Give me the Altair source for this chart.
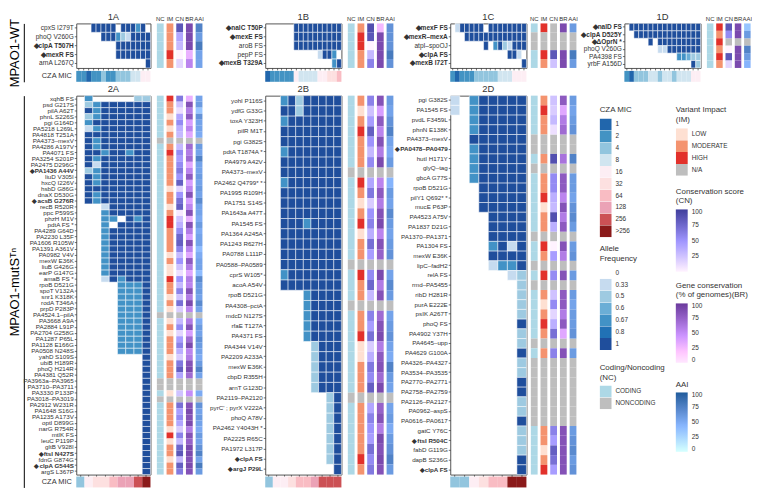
import altair as alt
import pandas as pd

# ---------------- colour keys ----------------
AF_CODE = {"a": "0.33", "b": "0.5", "c": "0.6", "d": "0.67", "e": "0.8", "f": "1"}
AF_LEVELS = ["0", "0.33", "0.5", "0.6", "0.67", "0.8", "1"]
AF_COLORS = ["#ffffff", "#c6dbef", "#9ecae1", "#6baed6", "#4292c6", "#2171b5", "#1f4e9c"]
MIC_LEVELS = ["1", "2", "4", "8", "16", "32", "64", "128", "256", ">256"]
MIC_COLORS = ["#2166ac", "#4393c3", "#92c5de", "#d1e5f0", "#fdeef4", "#fde0e0",
              "#f9bcc3", "#eba2b6", "#cc5155", "#8b1a1a"]
NC_LEVELS = ["CODING", "NONCODING"]
NC_COLORS = ["#add8e6", "#bebebe"]
IM_LEVELS = ["LOW", "MODERATE", "HIGH", "N/A"]
IM_COLORS = ["#fee0d2", "#f4936f", "#e2312b", "#bebebe"]
CN_RANGE = ["#ffffff", "#3f3f9c"]
BR_RANGE = ["#ffffff", "#6a3a9c"]
AAI_RANGE = ["#ffffff", "#1f5c9c"]
NA_GRAY = "#bebebe"
KEYS = ["NC", "IM", "CN", "BR", "AAI"]
NC_MAP = {"C": "CODING", "N": "NONCODING"}
IM_MAP = {"L": "LOW", "M": "MODERATE", "H": "HIGH", "N": "N/A"}

# ---------------- panel 1A ----------------
labels_1A = ["cpxS I279T", "phoQ V260G", "◆clpA T507H", "◆mexR FS", "arnA L267Q"]
heat_1A = ["...fffff.fffdf.", ".....fffdbaffff", "........fffffff",
           "........fffffff", "..............f"]
mic_1A = ["2", "2", "1", "2", "2", "4", "2", "2", "4", "4", "4", "8", "8", "16", "16"]
nc_1A = "CCCCC"
im_1A = "MMMHM"
cn_1A = [85, 40, 30, 0, 15]
br_1A = [90, 90, 90, 30, 55]
aai_1A = [75, 60, 80, 55, 55]

# ---------------- panel 1B ----------------
labels_1B = ["◆nalC T50P", "◆mexE FS", "aroB FS", "pepP FS", "◆mexB T329A"]
heat_1B = ["......ffffffffff", "......ffffffffff", "......ffffffffff",
           "...........affd.", "..............df"]
mic_1B = ["1", "2", "2", "2", "2", "2", "16", "8", "8", "8", "8", "16", "16", "32", "32", "64"]
nc_1B = "CCCCC"
im_1B = "MHHMM"
cn_1B = [90, 85, 0, 30, 60]
br_1B = [25, 90, 90, 90, 90]
aai_1B = [65, 65, 65, 80, 65]

# ---------------- panel 1C ----------------
labels_1C = ["◆mexF FS", "◆mexR–mexA", "atpI–spoOJ", "◆clpA FS", "◆mexB I72T"]
heat_1C = [".afffff.ffffffff", "...fffffffffffff", ".......f.dfbafff",
           "............ffa.", "...............f"]
mic_1C = ["2", "1", "2", "2", "2", "4", "4", "4", "4", "4", "8", "8", "8", "16", "16", "16"]
nc_1C = "CNNCC"
im_1C = "HNNHM"
cn_1C = [None, None, None, 85, 25]
br_1C = [90, None, None, 90, 90]
aai_1C = [60, None, None, 80, 60]

# ---------------- panel 1D ----------------
labels_1D = ["◆nalD FS", "◆clpA D525Y", "◆ΔOprN *", "phoQ V260G", "PA4398 FS", "yrbF A156D"]
heat_1D = [".fffffffffffffff", "..ffffffffffffff", ".....f.fffffffff",
           ".......aafffffff", "...........ddcbb", "..............fb"]
mic_1D = ["2", "1", "4", "4", "4", "8", "8", "4", "8", "8", "4", "8", "8", "8", "16", "16"]
nc_1D = "CCCCCC"
im_1D = "HMHMHM"
cn_1D = [85, 55, None, 0, 85, 15]
br_1D = [90, 90, None, 90, 90, 90]
aai_1D = [35, 60, None, 75, 60, 45]

# ---------------- panel 2A ----------------
labels_2A = [
    "xqhB FS", "psd G217S", "pilA A62T", "phnL S226S", "pgi G164D", "PA5218 L269L",
    "PA4818 T251A", "PA4373–mexV", "PA4286 A197V", "PA4071 FS", "PA3254 S201P",
    "PA2475 D296G", "◆PA1436 A44V", "liuD V305I", "hxcQ I226V", "hsbD G86G",
    "dnaX D530G", "◆acsB G276R", "recB R520R", "ppc P599S", "phzH M1V", "pdtA FS *",
    "PA4289 G64D", "PA2230 L35F", "PA1606 R105W", "PA1391 A361V", "PA0982 V4V",
    "mexW E36K", "liuB G426G", "earP G147G", "amaB FS *", "rpoB D521G", "spoT V132A",
    "snr1 K318K", "rodA T346A", "prpD P283P", "PA4524.1–pilA", "PA3668 A9A",
    "PA2884 L91P", "PA2704 G258G", "PA1287 P65L", "PA1128 E166G", "PA0508 N248S",
    "yahD S109S", "ubiB H189R", "phoQ H214R", "PA4381 Q52R", "PA3963a–PA3965",
    "PA3710–PA3711", "PA3330 P133P", "PA3018–PA3019", "PA2912 W231R", "PA1648 S16G",
    "PA1235 A173V", "optI D899G", "narG R754R", "mtlK FS", "leuC P119P", "gltB V928I",
    "◆ftsI N427S", "fdnG G874G", "◆clpA G544S", "argS L367P"]
heat_2A = (
    [".d.....bb", ".bdffffff", ".fdffffff", ".bdffffff", ".dfffffff", ".adffffff",
     ".ffffffff", ".fdffffff", ".fdffffff", ".ffdffdff", ".fdffffff", ".faffffff",
     ".bdffffff", ".fdffffff", ".fdffffff", ".ffffffff", ".fdffffff", ".fdffffff",
     "...afffff", "...dfffff", "...dd.fdf", "...d.ffff", "...dfffff", "...dfffff",
     "...dfffff", "...dfffff", "...dfffff", "...dfffff", "...dfffff", "...dfffff",
     "...afdfff"]
    + [".....dddf"] * 12 + ["........f"] * 20)
mic_2A = ["4", "16", "32", "32", "64", "128", "128", "256", ">256"]
nc_2A = "CCCCCCCNCC" "CCCCCCCCCC" "CCCCCCCCCC" "CCCCCCNCCC" "CCCCCCCNNC" "NCCCCCCCCC" "CCC"
im_2A = "HMMLMLMNMH" "MMMMMLMMLM" "HHMMMMLMLL" "HMMLMLNLML" "MMMLMMMNNL" "NMMMMLHLMM" "LMM"
cn_2A = [65, 25, 10, 40, 55, 35, 30, None, 30, 55, 45, 55, 65, 50, 80, 15, 50, 70, 80, 5,
         25, 35, 55, 75, 80, 60, 30, 50, 25, 10, 50, 30,
         60, 25, 70, 20, None, 30, 55, 15, 45, 60, 35, 20, 65, 80, 40, None, None, 25, None,
         70, 45, 55, 40, 20, 60, 30, 75, 85, 30, 80, 65]
br_2A = [30, 85, 60, 80, 40, 55, 35, None, 70, 60, 70, 35, 55, 80, 40, 55, 85, 40, 55, 85,
         30, 85, 60, 40, 85, 55, 35, 80, 60, 35, 60, 55,
         85, 60, 90, 55, None, 60, 85, 40, 70, 90, 55, 60, 85, 90, 70, None, None, 50, None,
         85, 90, 85, 90, 60, 85, 75, 90, 90, 85, 90, 85]
aai_2A = [55, 60, 35, 65, 55, 55, 50, None, 60, 55, 75, 55, 55, 60, 55, 60, 55, 70, 55, 55,
          50, 60, 50, 55, 55, 40, 50, 55, 55, 40, 70, 60,
          60, 55, 70, 55, None, 50, 60, 55, 65, 60, 55, 50, 60, 75, 55, None, None, 50, None,
          65, 55, 60, 55, 50, 60, 55, 65, 75, 55, 80, 60]

# ---------------- panel 2B ----------------
labels_2B = [
    "yohI P116S", "ydfG G33G", "toxA Y323H", "pilR M1T", "pgi G382S", "pdtA T1874A *",
    "PA4979 A42V", "PA4373–mexV", "PA2462 Q4799* *", "PA1995 R109H", "PA1751 S14S",
    "PA1643a A47T", "PA1545 FS", "PA1364 A245A", "PA1243 R627H", "PA0788 L111P",
    "PA0588–PA0589", "cprS W105*", "acoA A54V", "rpoB D521G", "PA4308–pctA",
    "mdcD N127S", "rfaE T127A", "PA4371 FS", "PA4344 V14V", "PA2209 A233A",
    "mexW E36K", "cbpD R355H", "arnT G123D", "PA2119–PA2120", "pyrC' ; pyrX V222A",
    "phoQ A78V", "PA2462 Y4043H *", "PA2225 R65C", "PA1972 L317P", "◆clpA FS", "◆argJ P29L"]
heat_2B = (
    ["..dfbfffff", "..ffbfffff", "..dfffffff", "..ffffffff", "..ffffffff", "..dfffffff",
     "..ffffffff", "..ffffffff", "..dfffffff", "..ffffffff", "..ffffffff", "..ffffffff",
     "..fffdffff", "..ffffffff", "..ffffffff", "..ffffffff", "..ffffffff", "..dfffffff",
     "..ffffffff"]
    + [".....dffff"] * 5 + ["......bfff"] * 5 + ["........bf"] * 7 + [".........f"])
mic_2B = ["4", "16", "16", "32", "64", "64", "128", "256", "256", "256"]
nc_2B = "CCCCCCCNCC" "CCCCCCNCCC" "NCCCCCCCCN" "CCCCCCC"
im_2B = "MLMHMMMNHM" "LMHLMMNHMM" "NMMHLLMMMN" "MMMMMHM"
cn_2B = [60, 25, 45, 80, 50, 30, 55, None, 40, 65, 20, 50, 60, 35, 70, 45, None, 55, 75, 30,
         None, 60, 45, 70, 20, 35, 65, 55, 80, None, 40, 60, 50, 45, 70, 55, 65]
br_2B = [85, 40, 80, 55, 85, 60, 90, None, 55, 80, 60, 85, 90, 55, 85, 75, None, 90, 60, 85,
         None, 70, 85, 90, 60, 80, 85, 70, 90, None, 75, 85, 60, 90, 85, 90, 85]
aai_2B = [60, 55, 65, 75, 55, 50, 60, None, 45, 60, 55, 70, 60, 55, 60, 65, None, 55, 70, 60,
          None, 55, 60, 65, 55, 50, 75, 60, 55, None, 55, 60, 50, 60, 65, 75, 60]

# ---------------- panel 2D ----------------
labels_2D = [
    "pgi G382S", "PA1545 FS", "pvdL F3459L", "phnN E138K", "PA4373–mexV",
    "◆PA0478–PA0479", "hutI H171Y", "glyQ–tag", "gbcA G77S", "rpoB D521G",
    "pilY1 Q692* *", "mucE P63P", "PA4523 A75V", "PA1837 D21G", "PA1370–PA1371",
    "PA1304 FS", "mexW E36K", "lipC–fadH2", "relA FS", "rmd–PA5455", "ribD H281R",
    "purA E222E", "psIK A267T", "phoQ FS", "PA4902 Y37H", "PA4645–upp", "PA4629 G100A",
    "PA4326–PA4327", "PA3534–PA3535", "PA2770–PA2771", "PA2758–PA2759", "PA2126–PA2127",
    "PA0962–aspS", "PA0616–PA0617", "gatC Y76C", "◆ftsI R504C", "fabD G119G",
    "dapB S236G", "◆clpA FS"]
heat_2D = [
    "a.dfffff", "a.dfffff", "..dfffff", "..dfffff", "..ffffff", "..dfffff", "..dfffff",
    "..dfffff", "..dfffff", "...fffff", "...fffff", "...fffff", "....ffff", "....ffff",
    "....ffff", "....dfaf", "....ffff", "....addf", "......ab", ".......b", ".......b",
    ".......b", ".......b", ".......f", ".......b", ".......b", ".......f", ".......b",
    ".......b", ".......f", ".......f", ".......b", ".......b", ".......f", ".......b",
    ".......b", ".......b", ".......f", ".......f"]
mic_2D = ["4", "4", "16", "32", "64", "64", ">256", ">256"]
nc_2D = "CCCCNNCNCC" "CCCCNCCNCN" "CCCCCNCNNN" "NNNNCCCCC"
im_2D = "MHMMNNMNMM" "HLMMNHMNHN" "MLMHMNMNNN" "NNNNMMLMH"
cn_2D = [25, 20, 30, 10, None, None, 90, None, 55, 55, 35, 30, 90, 35, None, 0, 45, None, 55, None,
         25, 55, 15, 35, 70, None, 60, None, None, None, None, None, None, None, 60, 45, 80, 70, 45]
br_2D = [80, 35, 60, 70, None, None, 65, None, 80, 80, 55, 85, 60, 80, None, 85, 60, None, 85, None,
         80, 80, 60, 80, 35, None, 85, None, None, None, None, None, None, None, 85, 85, 85, 85, 85]
aai_2D = [60, 55, 60, 65, None, None, 75, None, 60, 60, 55, 65, 70, 60, None, 60, 65, None, 60, None,
          60, 55, 60, 60, 65, None, 60, None, None, None, None, None, None, None, 60, 65, 70, 60, 65]

PANELS = {
    "1A": dict(labels=labels_1A, heat=heat_1A, mic=mic_1A, nc=nc_1A, im=im_1A, cn=cn_1A, br=br_1A, aai=aai_1A),
    "1B": dict(labels=labels_1B, heat=heat_1B, mic=mic_1B, nc=nc_1B, im=im_1B, cn=cn_1B, br=br_1B, aai=aai_1B),
    "1C": dict(labels=labels_1C, heat=heat_1C, mic=mic_1C, nc=nc_1C, im=im_1C, cn=cn_1C, br=br_1C, aai=aai_1C),
    "1D": dict(labels=labels_1D, heat=heat_1D, mic=mic_1D, nc=nc_1D, im=im_1D, cn=cn_1D, br=br_1D, aai=aai_1D),
    "2A": dict(labels=labels_2A, heat=heat_2A, mic=mic_2A, nc=nc_2A, im=im_2A, cn=cn_2A, br=br_2A, aai=aai_2A),
    "2B": dict(labels=labels_2B, heat=heat_2B, mic=mic_2B, nc=nc_2B, im=im_2B, cn=cn_2B, br=br_2B, aai=aai_2B),
    "2D": dict(labels=labels_2D, heat=heat_2D, mic=mic_2D, nc=nc_2D, im=im_2D, cn=cn_2D, br=br_2D, aai=aai_2D),
}

TXT = "#333333"
BOLD = {"condition": {"test": "indexof(datum.value, '◆') == 0", "value": "bold"}, "value": "normal"}


def heat_chart(name, w, h, title, fs):
    p = PANELS[name]
    ncol = len(p["heat"][0])
    rows = []
    for lab, s in zip(p["labels"], p["heat"]):
        for j, ch in enumerate(s):
            if ch in AF_CODE:
                rows.append({"gene": lab, "col": j, "af": AF_CODE[ch]})
    df = pd.DataFrame(rows)
    c = alt.Chart(df).mark_rect(stroke="white", strokeWidth=0.5).encode(
        x=alt.X("col:O", scale=alt.Scale(domain=list(range(ncol)), paddingInner=0, paddingOuter=0),
                axis=alt.Axis(title=None, labels=False, domain=False, ticks=True, tickSize=2,
                              tickWidth=0.7, tickColor=TXT)),
        y=alt.Y("gene:N", scale=alt.Scale(domain=p["labels"], paddingInner=0, paddingOuter=0),
                axis=alt.Axis(title=None, domain=False, ticks=True, tickSize=2, tickWidth=0.7,
                              tickColor=TXT, labelFontSize=fs, labelPadding=1, labelColor=TXT,
                              labelOverlap=False, labelFontWeight=BOLD)),
        color=alt.Color("af:N", scale=alt.Scale(domain=AF_LEVELS, range=AF_COLORS), legend=None),
    )
    return c.properties(width=w, height=h,
                        view=alt.ViewBackground(stroke="#555555", strokeWidth=1),
                        title=alt.TitleParams(title, fontSize=9.5, fontWeight="normal",
                                              anchor="middle", offset=2, color=TXT))


def cza_chart(name, w, h, show_label):
    p = PANELS[name]
    df = pd.DataFrame({"col": list(range(len(p["mic"]))), "mic": p["mic"], "lab": "CZA MIC"})
    yax = alt.Axis(title=None, domain=False, ticks=False, labelFontSize=7.5, labelPadding=5,
                   labelColor=TXT) if show_label else None
    return alt.Chart(df).mark_rect().encode(
        x=alt.X("col:O", scale=alt.Scale(domain=list(range(len(p["mic"]))), paddingInner=0,
                                         paddingOuter=0), axis=None),
        y=alt.Y("lab:N", axis=yax),
        color=alt.Color("mic:N", scale=alt.Scale(domain=MIC_LEVELS, range=MIC_COLORS), legend=None),
    ).properties(width=w, height=h)


def annot_chart(name, w, h, headers):
    p = PANELS[name]
    rows = []
    for i, lab in enumerate(p["labels"]):
        rows.append({"gene": lab, "key": "NC", "cat": NC_MAP[p["nc"][i]], "num": None})
        rows.append({"gene": lab, "key": "IM", "cat": IM_MAP[p["im"][i]], "num": None})
        for k, arr in (("CN", p["cn"]), ("BR", p["br"]), ("AAI", p["aai"])):
            v = arr[i]
            rows.append({"gene": lab, "key": k, "cat": "NA" if v is None else "V", "num": v})
    df = pd.DataFrame(rows)
    xax = alt.Axis(orient="top", title=None, labelAngle=0, ticks=False, domain=False,
                   labelFontSize=6, labelPadding=2, labelColor=TXT) if headers else None
    base = alt.Chart(df).encode(
        x=alt.X("key:N", scale=alt.Scale(domain=KEYS, paddingInner=0.3, paddingOuter=0.15), axis=xax),
        y=alt.Y("gene:N", scale=alt.Scale(domain=p["labels"], paddingInner=0, paddingOuter=0), axis=None),
    )
    layers = [
        base.transform_filter("datum.cat == 'NA'").mark_rect(color=NA_GRAY),
        base.transform_filter("datum.key == 'NC'").mark_rect().encode(
            color=alt.Color("cat:N", scale=alt.Scale(domain=NC_LEVELS, range=NC_COLORS), legend=None)),
        base.transform_filter("datum.key == 'IM'").mark_rect().encode(
            color=alt.Color("cat:N", scale=alt.Scale(domain=IM_LEVELS, range=IM_COLORS), legend=None)),
    ]
    for k, rng in (("CN", CN_RANGE), ("BR", BR_RANGE), ("AAI", AAI_RANGE)):
        layers.append(base.transform_filter(f"datum.key == '{k}' && isValid(datum.num)").mark_rect().encode(
            color=alt.Color("num:Q", scale=alt.Scale(domain=[0, 100], range=rng), legend=None)))
    return alt.layer(*layers).resolve_scale(color="independent").properties(width=w, height=h)


# ---------------- legends (each in its own host cell) ----------------
LEG_DF = pd.DataFrame({"v": ["x"]})
COMMON = dict(labelFontSize=6.5, labelOffset=4, titleFontSize=8, titleFontWeight="normal",
              titlePadding=4, padding=0, labelColor=TXT, titleColor=TXT)
SYM = dict(symbolType="square", symbolSize=144, symbolStrokeWidth=0, rowPadding=0,
           clipHeight=12, symbolOpacity=1, **COMMON)
GRAD = dict(direction="vertical", gradientLength=60, gradientThickness=12,
            gradientStrokeWidth=0, values=[0, 25, 50, 75, 100], **COMMON)
GRAD_CN = dict(GRAD)
GRAD_CN["values"] = [25, 50, 75, 100]
GRAD_CN["gradientLength"] = 63


def legend_host(w, h, t, domain, rng, title, lx, ly, opts):
    return alt.Chart(LEG_DF).transform_filter("false").mark_rect().encode(
        color=alt.Color(f"v:{t}", scale=alt.Scale(domain=domain, range=rng),
                        legend=alt.Legend(title=title, orient="none", legendX=lx, legendY=ly, **opts))
    ).properties(width=w, height=h)


BLANK = pd.DataFrame({"v": [0]})


def blank(w, h):
    return alt.Chart(BLANK).mark_point(opacity=0, size=0).properties(width=w, height=h)


def side_label(text, h):
    return alt.Chart(pd.DataFrame({"v": [0, 1]})).mark_point(opacity=0, size=0).encode(
        y=alt.Y("v:Q", scale=alt.Scale(domain=[0, 1], nice=False, zero=False),
                axis=alt.Axis(title=text, labels=False, ticks=False, grid=False, domain=True,
                              domainColor="black", domainWidth=1, titleFontSize=13,
                              titleFontWeight="normal", titlePadding=2, titleColor="black"))
    ).properties(width=1, height=h)


# ---------------- layout grid ----------------
COLS = [("hA", 75), ("g1", 5), ("aA", 49), ("g2", 62), ("hB", 77), ("g3", 5), ("aB", 49),
        ("g4", 56), ("hC", 77), ("g5", 3), ("aC", 49), ("g6", 47), ("hD", 77), ("g7", 5), ("aD", 47)]
ROWS = [("tH", 45), ("tg", 3), ("tC", 11), ("mg", 14), ("bH", 383), ("bg", 2), ("bC", 11)]
CW = dict(COLS)
RH = dict(ROWS)

X_G6, X_HD, X_G7, X_AD = 584, 631, 708, 713
Y_BH, Y_BC = 93, 478
FS_TOP, FS_BOT = 6.6, 6.3

cells = {
    ("tH", "hA"): heat_chart("1A", CW["hA"], RH["tH"], "1A", FS_TOP),
    ("tH", "aA"): annot_chart("1A", CW["aA"], RH["tH"], True),
    ("tH", "hB"): heat_chart("1B", CW["hB"], RH["tH"], "1B", FS_TOP),
    ("tH", "aB"): annot_chart("1B", CW["aB"], RH["tH"], True),
    ("tH", "hC"): heat_chart("1C", CW["hC"], RH["tH"], "1C", FS_TOP),
    ("tH", "aC"): annot_chart("1C", CW["aC"], RH["tH"], True),
    ("tH", "hD"): heat_chart("1D", CW["hD"], RH["tH"], "1D", FS_TOP),
    ("tH", "aD"): annot_chart("1D", CW["aD"], RH["tH"], True),
    ("tC", "hA"): cza_chart("1A", CW["hA"], RH["tC"], True),
    ("tC", "hB"): cza_chart("1B", CW["hB"], RH["tC"], False),
    ("tC", "hC"): cza_chart("1C", CW["hC"], RH["tC"], False),
    ("tC", "hD"): cza_chart("1D", CW["hD"], RH["tC"], False),
    ("bH", "hA"): heat_chart("2A", CW["hA"], RH["bH"], "2A", FS_BOT),
    ("bH", "aA"): annot_chart("2A", CW["aA"], RH["bH"], False),
    ("bH", "hB"): heat_chart("2B", CW["hB"], RH["bH"], "2B", FS_BOT),
    ("bH", "aB"): annot_chart("2B", CW["aB"], RH["bH"], False),
    ("bH", "hC"): heat_chart("2D", CW["hC"], RH["bH"], "2D", FS_BOT),
    ("bH", "aC"): annot_chart("2D", CW["aC"], RH["bH"], False),
    ("bC", "hA"): cza_chart("2A", CW["hA"], RH["bC"], True),
    ("bC", "hB"): cza_chart("2B", CW["hB"], RH["bC"], False),
    ("bC", "hC"): cza_chart("2D", CW["hC"], RH["bC"], False),
    # legends
    ("bH", "hD"): legend_host(CW["hD"], RH["bH"], "N", MIC_LEVELS, MIC_COLORS, "CZA MIC",
                              606 - X_HD, 104 - Y_BH, SYM),
    ("bH", "g6"): legend_host(CW["g6"], RH["bH"], "N", AF_LEVELS, AF_COLORS, ["Allele", "Frequency"],
                              606 - X_G6, 244 - Y_BH, SYM),
    ("bH", "g7"): legend_host(CW["g7"], RH["bH"], "N", NC_LEVELS, NC_COLORS,
                              ["Coding/Noncoding", "(NC)"], 606 - X_G7, 364 - Y_BH, SYM),
    ("bH", "aD"): legend_host(CW["aD"], RH["bH"], "N", IM_LEVELS, IM_COLORS, ["Variant Impact", "(IM)"],
                              683 - X_AD, 104 - Y_BH, SYM),
    ("bC", "hD"): legend_host(CW["hD"], RH["bC"], "Q", [0, 100], CN_RANGE, ["Conservation score", "(CN)"],
                              683 - X_HD, 186 - Y_BC, GRAD_CN),
    ("bC", "g6"): legend_host(CW["g6"], RH["bC"], "Q", [0, 100], BR_RANGE,
                              ["Gene conservation", "(% of genomes)(BR)"], 683 - X_G6, 281 - Y_BC, GRAD),
    ("bC", "aD"): legend_host(CW["aD"], RH["bC"], "Q", [0, 100], AAI_RANGE, "AAI",
                              683 - X_AD, 381 - Y_BC, GRAD),
}

flat = []
for rname, rh in ROWS:
    for cname, cw in COLS:
        flat.append(cells.get((rname, cname), blank(cw, rh)))

grid = alt.concat(*flat, columns=len(COLS), spacing=0, bounds="flush", align="each"
                  ).resolve_scale(color="independent")

left = alt.vconcat(
    side_label("MPAO1-WT", RH["tH"] + RH["tg"] + RH["tC"]),
    side_label("MPAO1-mutSᵀⁿ", RH["bH"] + RH["bg"] + RH["bC"]),
    spacing=RH["mg"], bounds="flush").resolve_scale(color="independent")

chart = alt.hconcat(left, grid, spacing=53, bounds="flush").resolve_scale(
    color="independent").properties(padding=0).configure(font="Liberation Sans").configure_view(strokeWidth=0)

chart.save("out.html", embed_options={"renderer": "svg", "actions": False})
